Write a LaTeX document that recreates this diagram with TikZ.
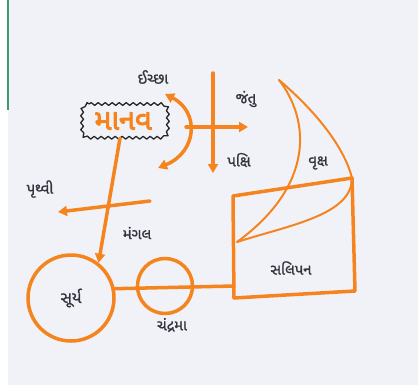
\documentclass[tikz,border=0pt]{standalone}
\usepackage{fontspec}
\newfontfamily\guj[Script=Gujarati,FakeBold=1]{Noto Sans Gujarati UI}
\newfontfamily\gujbold[Script=Gujarati,FakeBold=3]{Noto Sans Gujarati UI}
\usetikzlibrary{arrows.meta,decorations.pathmorphing}
\definecolor{mk}{HTML}{F5841F}
\definecolor{ink}{HTML}{34343F}
\definecolor{paper}{HTML}{F1F2F7}
\definecolor{edge}{HTML}{3F9A6E}
\tikzset{
  ol/.style={draw=mk, line width=3.5pt, line cap=round},
  thin leaf/.style={draw=mk, line width=2pt, line cap=round},
  arr/.style={-{Triangle[length=9pt,width=10pt]}},
  lbl/.style={font=\guj\fontsize{15}{17}\selectfont, text=ink, inner sep=1pt},
}
\begin{document}
\begin{tikzpicture}[x=1pt,y=-1pt]
\useasboundingbox (0,0) rectangle (418,391);
\fill[paper] (0,0) rectangle (418,391);
\fill[white] (0,0) rectangle (8,391);
\fill[white] (0,385) rectangle (418,391);
\draw[edge, line width=1.2pt] (8,0) -- (8,110);

% labels
\node[lbl] (iccha) at (153,77) {ઈચ્છા};
\node[lbl] (jantu) at (246,99) {જંતુ};
\node[lbl] (pakshi) at (239,160) {પક્ષિ};
\node[lbl] (vruksh) at (318,163) {વૃક્ષ};
\node[lbl] (pruthvi) at (40,189) {પૃથ્વી};
\node[lbl] (mangal) at (137,233) {મંગલ};
\node[lbl] (chandrama) at (172,325) {ચંદ્રમા};

% manav
\node[font=\gujbold\fontsize{29}{31}\selectfont, text=mk, minimum width=84pt, minimum height=34pt, inner sep=0pt] (manav) at (123,121) {માનવ};
\begin{scope}[shift={(manav.center)}]
\draw[black!85, line width=1.3pt, line join=round, decorate, decoration={snake, segment length=7pt, amplitude=1.4pt}]
  (-34,-17) -- (34,-17) .. controls (41,-17) and (43,-15) .. (43,-8)
  -- (43,8) .. controls (43,15) and (41,17) .. (34,17)
  -- (-34,17) .. controls (-41,17) and (-43,15) .. (-43,8)
  -- (-43,-8) .. controls (-43,-15) and (-41,-17) .. (-34,-17);
\end{scope}

% sun and moon
\node[circle, ol, minimum size=86pt, inner sep=0pt, font=\guj\fontsize{16}{18}\selectfont, text=ink] (surya) at (71,298) {સૂર્ય};
\node[circle, ol, minimum size=55pt, inner sep=0pt] (chandra) at (165,286) {};

% box
\coordinate (btl) at (233,196);
\coordinate (btr) at (352,178);
\coordinate (bbr) at (355,291);
\coordinate (bbl) at (234,298);
\draw[ol, line join=round] (btl) -- (btr) -- (bbr) -- (bbl) -- cycle;
\node[lbl] (salipan) at (291,268) {સલિપન};

% leaf
\coordinate (tip) at (279,80);
\coordinate (stem) at (237,242);
\draw[thin leaf] (tip) .. controls (310,120) and (315,185) .. (stem);
\draw[thin leaf] (tip) .. controls (320,115) and (345,150) .. (btr)
                 .. controls (352,215) and (290,225) .. (stem);

% connectors
\coordinate (mdown) at ([xshift=-3pt]manav.south);
\draw[ol, arr] (mdown) -- (surya.52);
\coordinate (pstart) at (150,201);
\coordinate (pend) at (58,212);
\draw[ol, arr] (pstart) -- (pend);
\coordinate (ic1) at (165,94);
\coordinate (ic2) at (158,168);
\draw[ol, {Triangle[length=9pt,width=10pt]}-{Triangle[length=9pt,width=10pt]}] (ic1) .. controls (200,112) and (197,152) .. (ic2);
\coordinate (jstart) at (186,127);
\coordinate (jend) at (248,127);
\draw[ol, arr] (jstart) -- (jend);
\coordinate (ptop) at (213,73);
\coordinate (pbot) at (213,173);
\draw[ol, arr] (ptop) -- (pbot);
\draw[ol] (surya.12) -- (bbl |- 0,286);
\end{tikzpicture}
\end{document}
